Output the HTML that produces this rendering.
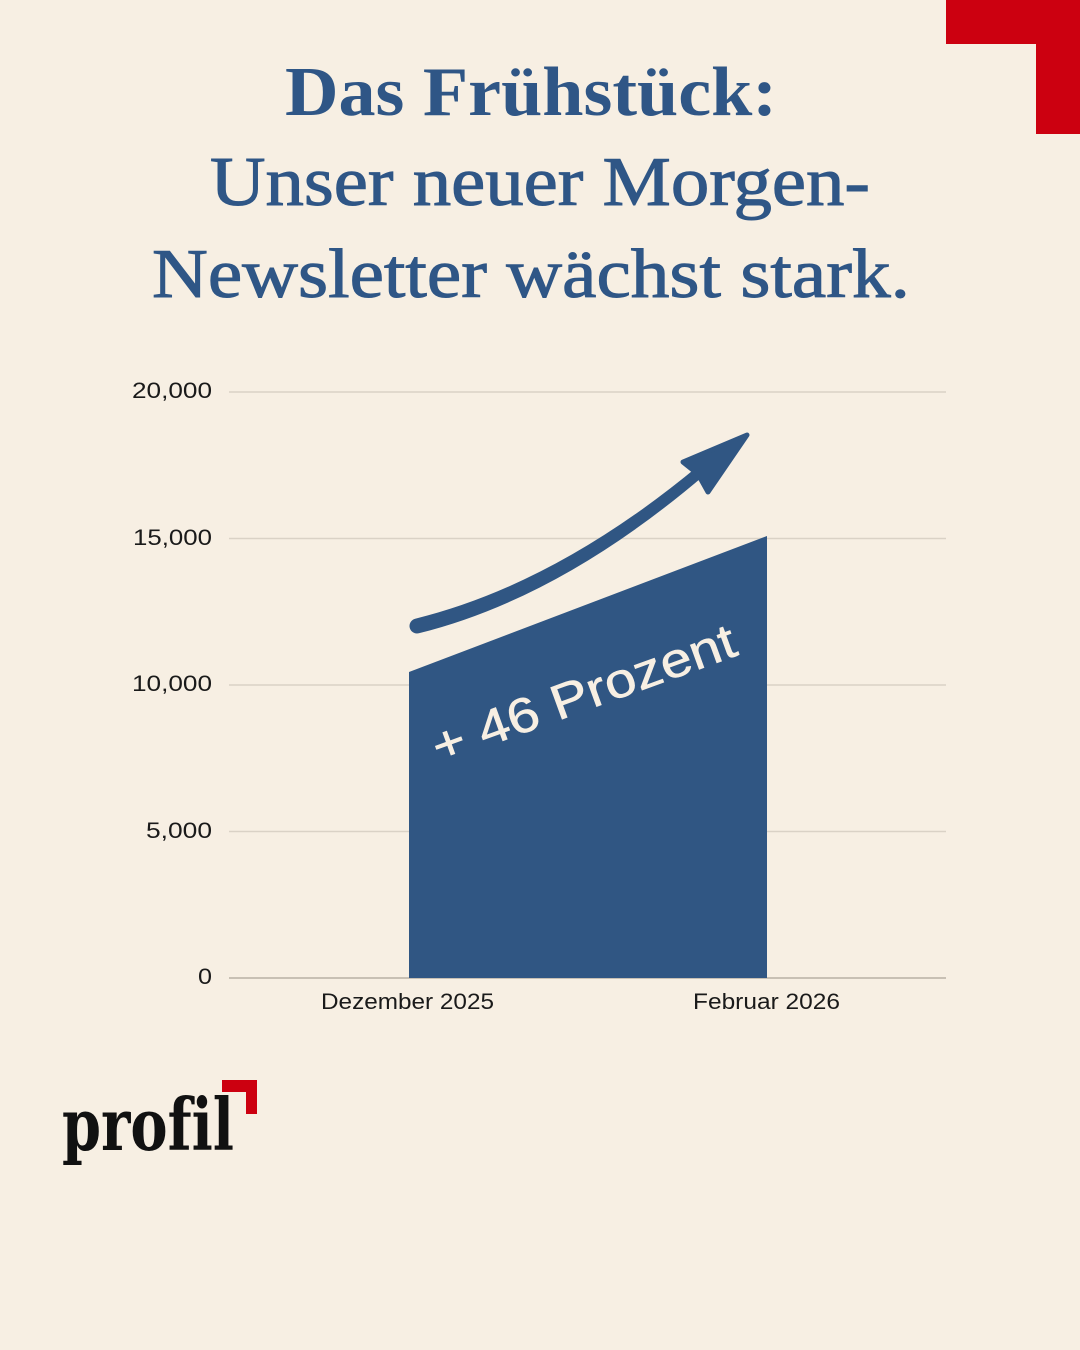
<!DOCTYPE html>
<html>
<head>
<meta charset="utf-8">
<style>
  html,body{margin:0;padding:0;background:#f7efe3;}
  body{width:1080px;height:1350px;overflow:hidden;}
  svg{display:block;}
  text{font-variant-ligatures:none;}
</style>
</head>
<body>
<svg width="1080" height="1350" viewBox="0 0 1080 1350" xmlns="http://www.w3.org/2000/svg">
  <rect x="0" y="0" width="1080" height="1350" fill="#f7efe3"/>

  <!-- red corner -->
  <path d="M946,0 L1080,0 L1080,134 L1036,134 L1036,44 L946,44 Z" fill="#cc0010"/>

  <!-- title -->
  <g fill="#2f5686" font-family="'Liberation Serif', serif">
    <text x="285" y="115" font-size="70" font-weight="bold" textLength="492" lengthAdjust="spacingAndGlyphs">Das Frühstück:</text>
    <text x="210" y="205" font-size="70" stroke="#2f5686" stroke-width="1" textLength="660" lengthAdjust="spacingAndGlyphs">Unser neuer Morgen-</text>
    <text x="152" y="297" font-size="70" stroke="#2f5686" stroke-width="1" textLength="758" lengthAdjust="spacingAndGlyphs">Newsletter wächst stark.</text>
  </g>

  <!-- gridlines -->
  <g stroke="#dad2c6" stroke-width="1.5">
    <line x1="229" y1="392" x2="946" y2="392"/>
    <line x1="229" y1="538.5" x2="946" y2="538.5"/>
    <line x1="229" y1="685" x2="946" y2="685"/>
    <line x1="229" y1="831.5" x2="946" y2="831.5"/>
  </g>
  <line x1="229" y1="978" x2="946" y2="978" stroke="#b9b1a5" stroke-width="1.5"/>

  <!-- y tick labels -->
  <g fill="#1a1a1a" font-family="'Liberation Sans', sans-serif" font-size="22" text-anchor="end">
    <text x="212" y="398" textLength="80" lengthAdjust="spacingAndGlyphs">20,000</text>
    <text x="212" y="545" textLength="79" lengthAdjust="spacingAndGlyphs">15,000</text>
    <text x="212" y="691" textLength="80" lengthAdjust="spacingAndGlyphs">10,000</text>
    <text x="212" y="838" textLength="66" lengthAdjust="spacingAndGlyphs">5,000</text>
    <text x="212" y="984" textLength="14" lengthAdjust="spacingAndGlyphs">0</text>
  </g>

  <!-- x labels -->
  <g fill="#1a1a1a" font-family="'Liberation Sans', sans-serif" font-size="22">
    <text x="321" y="1009" textLength="173" lengthAdjust="spacingAndGlyphs">Dezember 2025</text>
    <text x="693" y="1009" textLength="147" lengthAdjust="spacingAndGlyphs">Februar 2026</text>
  </g>

  <!-- area -->
  <path d="M409,978 L409,672 L767,536 L767,978 Z" fill="#305683"/>

  <!-- label in area -->
  <g transform="translate(439,764) rotate(-20)">
    <text x="0" y="0" fill="#f7efe3" stroke="#f7efe3" stroke-width="0.6" font-family="'Liberation Sans', sans-serif" font-size="49" textLength="320" lengthAdjust="spacingAndGlyphs">+ 46 Prozent</text>
  </g>

  <!-- arrow (tapered shaft) -->
  <path d="M415.2,618.7 Q556,584 698.5,465.8 L705.5,474.2 Q561,598 418.8,633.3 A7.5,7.5 0 0 1 415.2,618.7 Z" fill="#305683"/>
  <path d="M747,435 L683,462 L698,474 L708,492 Z" fill="#305683" stroke="#305683" stroke-width="5" stroke-linejoin="round"/>

  <!-- logo -->
  <path d="M222,1080 L257,1080 L257,1114 L246,1114 L246,1092 L222,1092 Z" fill="#cc0010"/>
  <text x="62" y="1150" fill="#111111" font-family="'DejaVu Serif', 'Liberation Serif', serif" font-weight="bold" font-size="72" textLength="172" lengthAdjust="spacingAndGlyphs">profil</text>
</svg>
</body>
</html>
